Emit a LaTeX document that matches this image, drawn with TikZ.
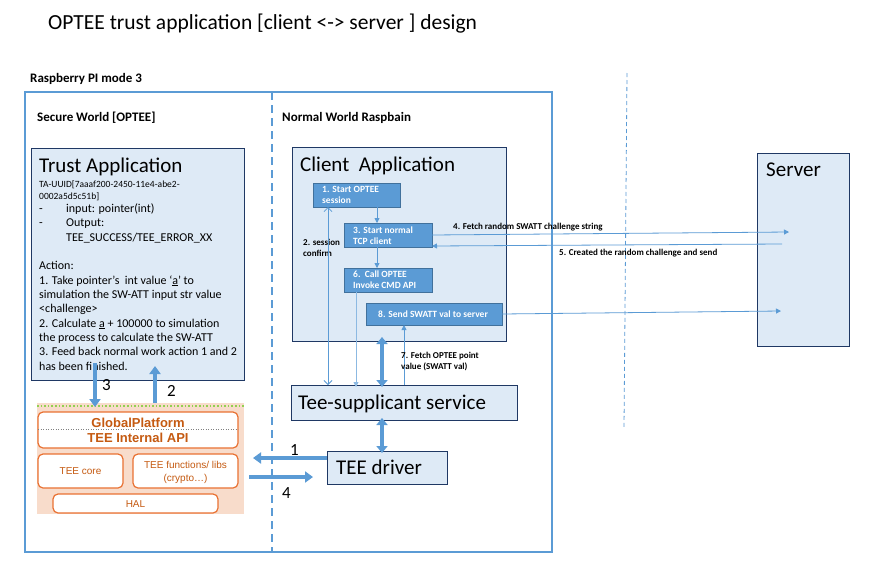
\documentclass[tikz,border=0pt]{standalone}
\usepackage{fontspec}
\setmainfont{Carlito}
\newfontfamily\arialf{Liberation Sans}
\usetikzlibrary{arrows.meta}
\definecolor{lineblue}{HTML}{5B9BD5}
\definecolor{lightfill}{HTML}{DEEAF6}
\definecolor{navy}{HTML}{1F3864}
\definecolor{midblue}{HTML}{5B9BD5}
\definecolor{boxborder}{HTML}{41719C}
\definecolor{peach}{HTML}{F8DCCB}
\definecolor{orangeline}{HTML}{E97132}
\definecolor{orangetext}{HTML}{C55A11}
\definecolor{dotgreen}{HTML}{92D050}
\newcommand{\fs}[1]{\fontsize{#1}{#1}\selectfont}
\tikzset{
  bx/.style={anchor=north west, inner sep=0pt, outer sep=0pt},
  tabox/.style={bx, draw=navy, fill=lightfill, line width=0.9pt},
  bluebox/.style={bx, draw=boxborder, fill=midblue, line width=0.8pt},
  orbox/.style={bx, draw=orangeline, fill=white, rounded corners=5pt, line width=1.2pt},
  txt/.style={anchor=base west, inner sep=0pt},
  ctxt/.style={anchor=base, inner sep=0pt},
  body/.style={txt, font=\fs{12}},
  wtxt/.style={txt, font=\bfseries\fs{9.5}, text=white},
  lbl/.style={txt, font=\bfseries\fs{9}},
  num/.style={txt, font=\fs{17}},
  big/.style={txt, font=\fs{21}},
  gptxt/.style={ctxt, font=\arialf\fs{10}, text=orangetext},
  thinarrow/.style={draw=lineblue, line width=0.8pt, -{Triangle[length=5pt,width=5pt]}},
  fatarrow/.style={draw=lineblue, line width=3.5pt, -{Triangle[length=8pt,width=11pt]}},
  dblarrow/.style={draw=lineblue, line width=3.5pt, {Triangle[length=7pt,width=11pt]}-{Triangle[length=7pt,width=11pt]}},
}
\begin{document}
\begin{tikzpicture}[x=1pt,y=-1pt]
\useasboundingbox[fill=white] (0,0) rectangle (889,584);

% title
\node[txt, font=\fs{21.5}] (title) at (48,29) {OPTEE trust application [client <-> server ] design};
\node[txt, font=\bfseries\fs{13}] (rpi) at (30,82) {Raspberry PI mode 3};

% outer box and dividers
\node[bx, draw=lineblue, line width=1.6pt, minimum width=527, minimum height=460] (outer) at (25,92) {};
\draw[lineblue, line width=1.4pt, dash pattern=on 8pt off 5pt] (outer.north -| 272,0) -- (outer.south -| 272,0);
\coordinate (rt) at (627,73);
\coordinate (rb) at (624,428);
\draw[lineblue, line width=0.8pt, dash pattern=on 4pt off 3pt] (rt) -- (rb);

\node[txt, font=\bfseries\fs{13}] (sw) at (37,121) {Secure World [OPTEE]};
\node[txt, font=\bfseries\fs{13}] (nw) at (282,121) {Normal World Raspbain};

% Trust application
\node[tabox, minimum width=213, minimum height=232] (ta) at (31,148) {};
\node[big] (tatitle) at (39,172) {Trust Application};
\node[txt, font=\fs{9.5}] (u1) at (39,187) {TA-UUID[7aaaf200-2450-11e4-abe2-};
\node[txt, font=\fs{9.5}] (u2) at (39,199) {0002a5d5c51b]};
\node[body] (l1a) at (39,212) {-};
\node[body] (l1) at (66,212) {input: pointer(int)};
\node[body] (l2a) at (39,226) {-};
\node[body] (l2) at (66,226) {Output:};
\node[body] (l3) at (66,241) {TEE\_SUCCESS/TEE\_ERROR\_XX};
\node[body] (l5) at (39,269) {Action:};
\node[body] (l6) at (39,284) {1. Take pointer’s\ \ int value ‘\underline{a}’ to};
\node[body] (l7) at (39,298) {simulation the SW-ATT input str value};
\node[body] (l8) at (39,312) {<challenge>};
\node[body] (l9) at (39,327) {2. Calculate \underline{a} + 100000 to simulation};
\node[body] (l10) at (39,341) {the process to calculate the SW-ATT};
\node[body] (l11) at (39,355) {3. Feed back normal work action 1 and 2};
\node[body] (l12) at (39,370) {has been finished.};

% GlobalPlatform block
\node[bx, fill=peach, minimum width=207, minimum height=111] (gp) at (37,403) {};
\draw[dotgreen, line width=1.6pt, dotted] (gp.north west |- 0,406) -- (gp.north east |- 0,406);
\node[orbox, minimum width=200, minimum height=36] (gpi) at (38,412) {};
\draw[gray, line width=0.5pt, dotted] (gpi.west |- 0,429) -- (gpi.east |- 0,429);
\node[ctxt, font=\arialf\bfseries\fs{13}, text=orangetext] (gpt1) at (138,427.5) {GlobalPlatform};
\node[ctxt, font=\arialf\bfseries\fs{13}, text=orangetext] (gpt2) at (138,442.5) {TEE Internal API};
\node[orbox, minimum width=85, minimum height=34] (core) at (38,454) {};
\node[gptxt] (coret) at (core.center |- 0,474.5) {TEE core};
\node[orbox, minimum width=105, minimum height=34] (fun) at (133,454) {};
\node[gptxt] (funt1) at (fun.center |- 0,468.5) {TEE functions/ libs};
\node[gptxt] (funt2) at (fun.center |- 0,481.5) {(crypto…)};
\node[orbox, minimum width=165, minimum height=19] (hal) at (53,494) {};
\node[gptxt] (halt) at (hal.center |- 0,507) {HAL};

% arrows 3 and 2
\coordinate (a3s) at (95,363);
\coordinate (a3e) at (95,407);
\draw[fatarrow] (a3s) -- (a3e);
\coordinate (a2s) at (155,403);
\coordinate (a2e) at (155,366);
\draw[fatarrow] (a2s) -- (a2e);
\node[num] (n3) at (102,390) {3};
\node[num] (n2) at (167,396) {2};

% Client application
\node[tabox, minimum width=214, minimum height=194] (client) at (292,147) {};
\node[big] (ctitle) at (300,171) {Client\ \ Application};
\node[bluebox, minimum width=87, minimum height=24] (b1) at (313,183) {};
\node[wtxt] (b1t1) at (322,192) {1. Start OPTEE};
\node[wtxt] (b1t2) at (322,203) {session};
\node[bluebox, minimum width=88, minimum height=24] (b3) at (344,223) {};
\node[wtxt] (b3t1) at (353,233) {3. Start normal};
\node[wtxt] (b3t2) at (353,244) {TCP client};
\node[bluebox, minimum width=88, minimum height=24] (b6) at (344,268) {};
\node[wtxt] (b6t1) at (353,277) {6.\ \ Call OPTEE};
\node[wtxt] (b6t2) at (353,288) {Invoke CMD API};
\node[bluebox, minimum width=136, minimum height=22] (b8) at (366,303) {};
\node[wtxt] (b8t) at (378,317) {8. Send SWATT val to server};

\draw[thinarrow] (b1.south -| 377,0) -- (b3.north -| 377,0);
\draw[thinarrow] (b3.south -| 377,0) -- (b6.north -| 377,0);

\node[lbl] (sc1) at (303,245) {2. session};
\node[lbl] (sc2) at (303,256) {confirm};

% Tee-supplicant and driver
\node[tabox, minimum width=226, minimum height=35] (tee) at (291,385) {};
\node[txt, font=\fs{21}] (teet) at (298,409) {Tee-supplicant service};
\node[tabox, minimum width=120, minimum height=33] (drv) at (327,451) {};
\node[txt, font=\fs{21}] (drvt) at (336,474) {TEE driver};

\draw[lineblue, line width=0.8pt, {Straight Barb[length=4pt,width=8pt]}-{Straight Barb[length=4pt,width=8pt]}] (b1.south -| 328,0) -- (tee.north -| 328,0);
\draw[thinarrow, draw=lineblue!70] (b6.south -| 356,0) -- ([yshift=-2pt]tee.north -| 356,0);
\draw[thinarrow] (tee.north -| 404,0) -- (b8.south -| 404,0);
\draw[dblarrow] ([yshift=4pt]client.south -| 382,0) -- ([yshift=-2pt]tee.north -| 382,0);
\draw[dblarrow] ([yshift=2pt]tee.south -| 382,0) -- ([yshift=-2pt]drv.north -| 382,0);
\node[lbl] (f7a) at (401,358) {7. Fetch OPTEE point};
\node[lbl] (f7b) at (401,369) {value (SWATT val)};

% arrows 1 and 4
\coordinate (a1e) at (253,458);
\draw[fatarrow] (drv.west |- 0,458) -- (a1e);
\coordinate (a4s) at (249,477);
\coordinate (a4e) at (313,477);
\draw[fatarrow] (a4s) -- (a4e);
\node[num] (n1) at (290,455) {1};
\node[num] (n4) at (282,498) {4};

% Server
\node[tabox, minimum width=92, minimum height=193] (server) at (757,153) {};
\node[txt, font=\fs{21}] (servt) at (766,176) {Server};
\coordinate (s4) at (789,232);
\coordinate (s5) at (782,244);
\coordinate (s8) at (781,311);
\draw[thinarrow] (b3.east) -- (s4);
\draw[thinarrow] (s5) -- ([yshift=1pt]b3.east |- 0,247);
\draw[thinarrow] (b8.east) -- (s8);
\node[lbl] (m4) at (453,229) {4. Fetch random SWATT challenge string};
\node[lbl] (m5) at (559,255) {5. Created the random challenge and send};
\end{tikzpicture}
\end{document}
